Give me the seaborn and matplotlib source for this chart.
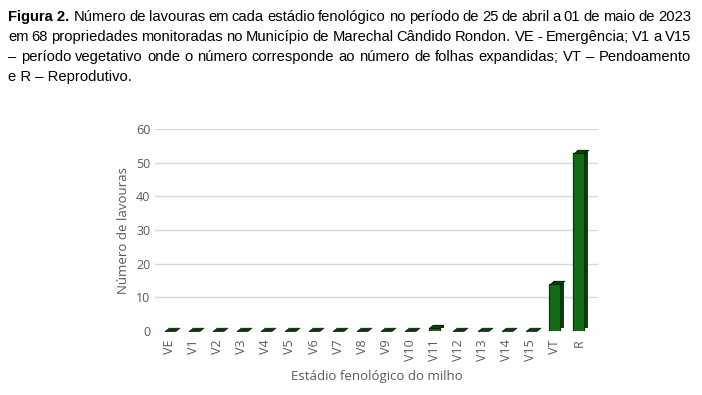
import matplotlib
matplotlib.use("Agg")
import matplotlib.pyplot as plt
import matplotlib.patheffects as pe
import seaborn as sns
import pandas as pd
from matplotlib import font_manager

# data
stages = ["VE", "V1", "V2", "V3", "V4", "V5", "V6", "V7", "V8", "V9", "V10",
          "V11", "V12", "V13", "V14", "V15", "VT", "R"]
n_lavouras = [0, 0, 0, 0, 0, 0, 0, 0, 0, 0, 0, 1, 0, 0, 0, 0, 14, 53]
y_ticks = [0, 10, 20, 30, 40, 50, 60]

caption_bold = "Figura 2."
caption_lines = [
    " Número de lavouras em cada estádio fenológico no período de 25 de abril a 01 de maio de 2023",
    "em 68 propriedades monitoradas no Município de Marechal Cândido Rondon. VE - Emergência; V1 a V15",
    "– período vegetativo onde o número corresponde ao número de folhas expandidas; VT – Pendoamento",
    "e R – Reprodutivo.",
]

sns.set_theme(style="white")
names = {f.name for f in font_manager.fontManager.ttflist}
cap_font = "Liberation Sans Narrow" if "Liberation Sans Narrow" in names else "Liberation Sans"
plt.rcParams["font.family"] = ["Open Sans", "DejaVu Sans"]

GRAY = "#595959"
FRONT = "#126b15"
SIDE = "#0b3f0d"
df = pd.DataFrame({"stage": stages, "n": n_lavouras})

fig = plt.figure(figsize=(7.02, 3.95), dpi=100)
ax = fig.add_axes([0.221, 0.162, 0.631, 0.511])

sns.barplot(data=df, x="stage", y="n", ax=ax, color=FRONT, saturation=1,
            width=0.45, edgecolor="#0b2e0b", linewidth=0.8, zorder=3)
for p in ax.patches:
    p.set_path_effects([pe.withSimplePatchShadow(offset=(2.8, 2.0),
                                                 shadow_rgbFace=SIDE, alpha=1.0),
                        pe.Normal()])

# top face of each bar (3D look), drawn as a parallelogram marker
top_face = [(-5.2, 0), (5.2, 0), (9.2, 3.2), (-1.2, 3.2), (-5.2, 0)]
sns.scatterplot(data=df, x="stage", y="n", ax=ax, marker=top_face, s=185,
                color="#0d3d0f", edgecolor="#061a06", linewidth=0.5,
                zorder=4, legend=False)

ax.set_ylim(0, 60)
ax.set_yticks(y_ticks)
ax.yaxis.grid(True, color="#d9d9d9", linewidth=1.0, zorder=0)
ax.set_axisbelow(True)
sns.despine(ax=ax, left=True, bottom=True)
ax.tick_params(axis="both", length=0, colors=GRAY, labelsize=9)
ax.tick_params(axis="x", rotation=90, pad=6)
ax.set_xlabel("Estádio fenológico do milho", color=GRAY, fontsize=9.5, labelpad=6)
ax.set_ylabel("Número de lavouras", color=GRAY, fontsize=9.5, labelpad=4)
ax.set_xlim(-0.6, len(stages) - 0.2)

# caption, justified lines
fig.canvas.draw()
r = fig.canvas.get_renderer()
left_px, right_px = 8, 691
W, H = fig.bbox.width, fig.bbox.height
y_px = [17, 37, 57, 77]


def text_w(s, weight="normal"):
    t = fig.text(0, 0, s, fontsize=10.6, family=cap_font, fontweight=weight)
    w = t.get_window_extent(r).width
    t.remove()
    return w


for i, line in enumerate(caption_lines):
    y = 1 - y_px[i] / H
    x0 = left_px
    if i == 0:
        fig.text(x0 / W, y, caption_bold, fontsize=10.6, family=cap_font,
                 fontweight="bold", va="center", color="black")
        x0 += text_w(caption_bold, "bold") + text_w(" ")
    words = line.split()
    if i == len(caption_lines) - 1:
        fig.text(x0 / W, y, " ".join(words), fontsize=10.6, family=cap_font,
                 va="center", color="black")
        continue
    widths = [text_w(w) for w in words]
    gap = (right_px - x0 - sum(widths)) / (len(words) - 1)
    x = x0
    for w, wd in zip(words, widths):
        fig.text(x / W, y, w, fontsize=10.6, family=cap_font, va="center", color="black")
        x += wd + gap

fig.savefig("out.png", dpi=100)
